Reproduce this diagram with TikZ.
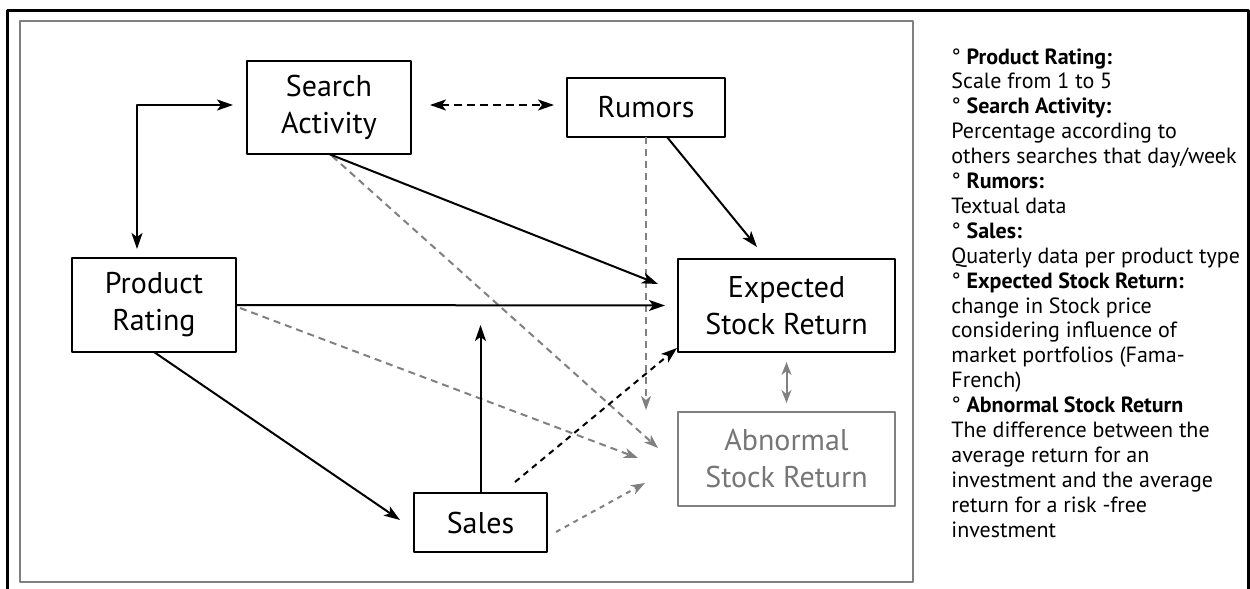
\documentclass[tikz,border=0pt]{standalone}
\usepackage{fontspec}
\setmainfont{PT Sans}
\usetikzlibrary{arrows.meta,calc}
\definecolor{greyline}{RGB}{128,128,128}
\definecolor{greytext}{RGB}{118,118,118}

\begin{document}
\begin{tikzpicture}[x=0.5pt,y=-0.5pt, line join=round,
	>={Stealth[length=8pt,width=5.5pt,inset=2pt]},
	box/.style={draw, line width=1.4pt, outer sep=0pt, inner sep=0pt, align=center,
		font=\fontsize{15}{18.5}\selectfont},
	arrowline/.style={->, line width=1pt},
	blackdash/.style={->, line width=1pt, dash pattern=on 4pt off 2.5pt},
	blackdot/.style={->, line width=1pt, dash pattern=on 3pt off 2.5pt},
	greydash/.style={->, line width=1pt, greyline, dash pattern=on 3.5pt off 2.5pt,
		>={Stealth[length=7pt,width=5pt,inset=2pt]}},
	greyarrow/.style={<->, line width=1pt, greyline,
		>={Stealth[length=6.5pt,width=5pt,inset=2pt]}}]
	\useasboundingbox (0,0) rectangle (1250,589);
	
	% --- Rahmen ---
	\draw[line width=1.5pt] (7,589) -- (7,10) -- (1248,10) -- (1248,589);
	\draw[greyline, line width=0.7pt] (20,21) rectangle (913,582);
	
	% --- Knoten ---
	\node[box, minimum width=82pt, minimum height=46.5pt] (search) at (329,107.5) {Search\\Activity};
	\node[box, minimum width=79pt, minimum height=29.5pt] (rumors) at (646,107.5) {Rumors};
	\node[box, minimum width=82pt, minimum height=47pt] (rating) at (154,305) {Product\\Rating};
	\node[box, minimum width=108.5pt, minimum height=46.5pt] (expected) at (786.5,305.5) {Expected\\Stock Return};
	\node[box, draw=greyline, text=greytext, minimum width=108.5pt, minimum height=47pt] (abnormal) at (786.5,459) {Abnormal\\Stock Return};
	\node[box, minimum width=66.5pt, minimum height=29.5pt] (sales) at (480.5,522.5) {Sales};
	
	% --- Pfeilenden ---
	\coordinate (corner) at (137,105);
	\coordinate (t3) at ($(expected.west)+(-20,-21.5)$);
	\coordinate (t4) at ($(abnormal.west)+(-20,-11)$);
	\coordinate (t5) at ($(rumors.south |- abnormal.north)+(0,-2)$);
	\coordinate (t6) at ($(expected.north)+(-29.5,-12)$);
	\coordinate (t8) at ($(abnormal.west)+(-40,-1)$);
	\coordinate (t9) at ($(sales.west)+(-14,-2.5)$);
	\coordinate (t10) at ($(sales.north)+(0,-168)$);
	\coordinate (t11) at ($(expected.south west)+(-1,-4)$);
	\coordinate (t12) at ($(abnormal.west)+(-33,24)$);
	
	% --- Verbindungen ---
	\draw[arrowline, <->, shorten <=7pt, shorten >=4.5pt] (corner -| search.west) -- (corner) -- (corner |- rating.north);
	\draw[blackdash, <->, shorten <=9.5pt, shorten >=6.5pt] (corner -| search.east) -- (corner -| rumors.west);
	\draw[greydash] ($(search.south)+(3,2)$) -- (t4);
	\draw[greydash] (rumors.south) -- (t5);
	\draw[greydash] ($(rating.east)+(4,3)$) -- (t8);
	\draw[greydash, dash pattern=on 2.5pt off 2.5pt] ($(sales.east)+(9,9.5)$) -- (t12);
	\draw[arrowline] (search.south) -- (t3);
	\draw[arrowline] ($(rumors.south)+(21,0)$) -- (t6);
	\draw[arrowline, shorten >=6.5pt] (rating.east) -- (expected.west);
	\draw[arrowline] (rating.south) -- (t9);
	\draw[arrowline] (sales.north) -- (t10);
	\draw[blackdot] ($(sales.north east)+(-32,-11)$) -- (t11);
	\draw[greyarrow, shorten <=5pt, shorten >=4.5pt] (expected.south) -- (abnormal.north);
	
	% --- Legende ---
	\foreach \txt [count=\i from 0] in {%
		° \textbf{Product Rating:}, Scale from 1 to 5,
		° \textbf{Search Activity:}, Percentage according to, others searches that day/week,
		° \textbf{Rumors:}, Textual data,
		° \textbf{Sales:}, Quaterly data per product type,
		° \textbf{Expected Stock Return:}, change in Stock price, considering influence of,
		market portfolios (Fama-, French),
		° \textbf{Abnormal Stock Return}, The difference between the, average return for an,
		investment and the average, return for a risk -free, investment}
	\node[anchor=base west, inner sep=0pt, font=\fontsize{11}{12}\selectfont] (leg\i) at (951,{64+24.9*\i}) {\txt};
\end{tikzpicture}
\end{document}
